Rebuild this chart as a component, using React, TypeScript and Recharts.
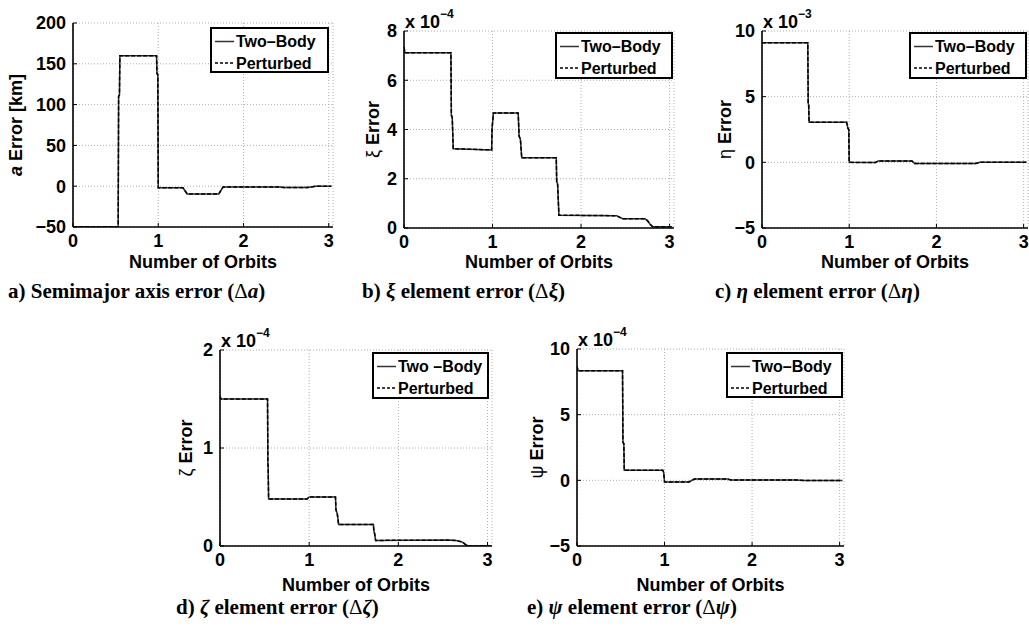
import React from 'react';
import { LineChart, Line, XAxis, YAxis, CartesianGrid, Legend } from 'recharts';

// values; b, d, e are in units of 1e-4, c in 1e-3
const orbitsA = [0, 0.53, 0.535, 0.545, 0.55, 0.98, 0.985, 0.995, 1.0, 1.29, 1.34, 1.71, 1.76, 2.43, 2.47, 2.75, 2.85, 3.03];
const twoBodyA = [-50, -50, 110, 112, 160, 160, 138, 137, -2, -2, -9.5, -9.5, -1, -1, -1.5, -1.5, 0, 0];
const perturbedA = [-50, -50, 110, 112, 160, 160, 138, 137, -2, -2, -9.5, -9.5, -1, -1, -1.5, -1.5, 0, 0];

const orbitsB = [0, 0.01, 0.53, 0.535, 0.545, 0.556, 0.99, 0.995, 1.01, 1.29, 1.3, 1.315, 1.33, 1.72, 1.725, 1.735, 1.75, 2.4, 2.47, 2.72, 2.75, 2.78, 2.81, 3.03];
const twoBodyB = [7.35, 7.12, 7.12, 4.58, 4.5, 3.22, 3.17, 4.04, 4.67, 4.67, 3.73, 3.6, 2.85, 2.85, 1.87, 1.8, 0.52, 0.5, 0.38, 0.38, 0.3, 0.15, 0.05, 0.05];
const perturbedB = [7.35, 7.12, 7.12, 4.58, 4.5, 3.22, 3.17, 4.04, 4.67, 4.67, 3.73, 3.6, 2.85, 2.85, 1.87, 1.8, 0.52, 0.5, 0.38, 0.38, 0.3, 0.15, 0.05, 0.05];

const orbitsC = [0, 0.525, 0.53, 0.535, 0.54, 0.97, 0.985, 0.995, 1.0, 1.3, 1.33, 1.72, 1.75, 2.45, 2.5, 3.03];
const twoBodyC = [9.1, 9.1, 4.46, 4.4, 3.05, 3.05, 2.6, 2.5, 0, -0.02, 0.1, 0.1, -0.08, -0.08, 0, 0];
const perturbedC = [9.1, 9.1, 4.46, 4.4, 3.05, 3.05, 2.6, 2.5, 0, -0.02, 0.1, 0.1, -0.08, -0.08, 0, 0];

const orbitsD = [0, 0.01, 0.533, 0.537, 0.54, 0.545, 0.976, 1.0, 1.295, 1.3, 1.315, 1.33, 1.72, 1.725, 1.735, 1.745, 2.55, 2.65, 2.72, 2.76, 2.79, 3.03];
const twoBodyD = [1.53, 1.5, 1.5, 0.85, 0.8, 0.48, 0.48, 0.5, 0.5, 0.37, 0.33, 0.22, 0.22, 0.16, 0.12, 0.057, 0.06, 0.055, 0.04, 0.01, 0, 0];
const perturbedD = [1.53, 1.5, 1.5, 0.85, 0.8, 0.48, 0.48, 0.5, 0.5, 0.37, 0.33, 0.22, 0.22, 0.16, 0.12, 0.057, 0.06, 0.055, 0.04, 0.01, 0, 0];

const orbitsE = [0, 0.01, 0.52, 0.525, 0.535, 0.54, 0.98, 0.99, 1.0, 1.28, 1.34, 1.72, 1.76, 2.5, 2.6, 3.03];
const twoBodyE = [8.7, 8.35, 8.35, 2.86, 2.8, 0.77, 0.77, 0.6, -0.12, -0.12, 0.1, 0.1, 0.03, 0.03, -0.02, -0.02];
const perturbedE = [8.7, 8.35, 8.35, 2.86, 2.8, 0.77, 0.77, 0.6, -0.12, -0.12, 0.1, 0.1, 0.03, 0.03, -0.02, -0.02];

const xTicks = [0, 1, 2, 3];
const yTicksA = [-50, 0, 50, 100, 150, 200];
const yTicksB = [0, 2, 4, 6, 8];
const yTicksC = [-5, 0, 5, 10];
const yTicksD = [0, 1, 2];
const yTicksE = [-5, 0, 5, 10];

const seriesNames = ['Two\u2013Body', 'Perturbed'];
const seriesNamesD = ['Two \u2013Body', 'Perturbed'];

const toRows = (x: number[], two: number[], pert: number[]) =>
  x.map((v, i) => ({ orbits: v, twoBody: two[i], perturbed: pert[i] }));

const YW = 70;
const XH = 62;
const MT = 30;
const MR = 8;
const X_MAX = 3.05;

const fmt = (v: number) => (v < 0 ? `\u2212${Math.abs(v)}` : `${v}`);

type Box = { l: number; t: number; r: number; b: number };
type LBox = { l: number; t: number; w: number; h: number };

const LegendBox = ({ names, w, h }: { names: string[]; w: number; h: number }) => (
  <svg width={w} height={h} style={{ overflow: 'visible', display: 'block' }}>
    <rect x={1} y={1} width={w - 2} height={h - 2} fill="#fff" stroke="#000" strokeWidth={2} />
    <line x1={5} x2={24} y1={14.5} y2={14.5} stroke="#333" strokeWidth={1.5} />
    <text x={26} y={14.5} dominantBaseline="central" fontSize={16} fontWeight={700}>{names[0]}</text>
    <line x1={5} x2={24} y1={36} y2={36} stroke="#000" strokeWidth={1.3} strokeDasharray="3 2" />
    <text x={26} y={36} dominantBaseline="central" fontSize={16} fontWeight={700}>{names[1]}</text>
  </svg>
);

interface PanelProps {
  rows: { orbits: number; twoBody: number; perturbed: number }[];
  yTicks: number[];
  exponent?: string;
  yLabel: React.ReactNode;
  yLabelDx: number;
  xLabelDy: number;
  plot: Box;
  legend: LBox;
  names: string[];
}

const Panel: React.FC<PanelProps> = ({ rows, yTicks, exponent, yLabel, yLabelDx, xLabelDy, plot, legend, names }) => {
  const left = plot.l - YW;
  const top = plot.t - MT;
  const width = plot.r - plot.l + YW + MR;
  const height = plot.b - plot.t + MT + XH;
  const yDomain = [yTicks[0], yTicks[yTicks.length - 1]];
  const axisLine = { stroke: '#000', strokeWidth: 1.6 };
  const tickStyle = { fill: '#000', fontSize: 18, fontWeight: 700 };

  return (
    <div style={{ position: 'absolute', left, top, width, height }}>
      <LineChart width={width} height={height} data={rows} margin={{ top: MT, right: MR, bottom: 0, left: 0 }}>
        <CartesianGrid stroke="#b0b0b0" strokeDasharray="1 2" />
        <XAxis
          dataKey="orbits"
          type="number"
          domain={[0, X_MAX]}
          ticks={xTicks}
          interval={0}
          allowDataOverflow
          height={XH}
          tickSize={-4}
          tickMargin={11}
          axisLine={axisLine}
          tickLine={{ stroke: '#000' }}
          tick={tickStyle}
          label={(p: any) => {
            const vb = p.viewBox;
            return (
              <text x={vb.x + vb.width / 2} y={vb.y + xLabelDy} textAnchor="middle" dominantBaseline="central" fontSize={18} fontWeight={700}>
                Number of Orbits
              </text>
            );
          }}
        />
        <XAxis
          xAxisId="top"
          orientation="top"
          type="number"
          domain={[0, X_MAX]}
          ticks={xTicks}
          interval={0}
          allowDataOverflow
          height={0}
          tickSize={-4}
          tickFormatter={() => ''}
          axisLine={axisLine}
          tickLine={{ stroke: '#000' }}
        />
        <YAxis
          type="number"
          domain={yDomain}
          ticks={yTicks}
          interval={0}
          allowDataOverflow
          width={YW}
          tickSize={-4}
          tickMargin={11}
          tickFormatter={fmt}
          axisLine={axisLine}
          tickLine={{ stroke: '#000' }}
          tick={tickStyle}
          label={(p: any) => {
            const vb = p.viewBox;
            const cx = vb.x + vb.width + yLabelDx;
            const cy = vb.y + vb.height / 2;
            return (
              <g>
                <text x={cx} y={cy} transform={`rotate(-90 ${cx} ${cy})`} textAnchor="middle" dominantBaseline="central" fontSize={18} fontWeight={700}>
                  {yLabel}
                </text>
                {exponent && (
                  <text x={vb.x + vb.width + 1} y={vb.y - 3} fontSize={18} fontWeight={700}>
                    x 10<tspan dy={-10} fontSize={12}>{exponent}</tspan>
                  </text>
                )}
              </g>
            );
          }}
        />
        <YAxis
          yAxisId="right"
          orientation="right"
          type="number"
          domain={yDomain}
          ticks={yTicks}
          interval={0}
          allowDataOverflow
          width={0}
          tickSize={-4}
          tickFormatter={() => ''}
          axisLine={axisLine}
          tickLine={{ stroke: '#000' }}
        />
        <Line dataKey="twoBody" type="linear" dot={false} stroke="#333" strokeWidth={1.5} isAnimationActive={false} />
        <Line dataKey="perturbed" type="linear" dot={false} stroke="#000" strokeWidth={1.5} strokeDasharray="4 2" isAnimationActive={false} />
        <Legend
          layout="vertical"
          verticalAlign="middle"
          align="center"
          wrapperStyle={{ left: legend.l - left, top: legend.t - top, width: legend.w, height: legend.h }}
          content={() => <LegendBox names={names} w={legend.w} h={legend.h} />}
        />
      </LineChart>
    </div>
  );
};

const captionStyle: React.CSSProperties = {
  position: 'absolute',
  fontFamily: '"Liberation Serif", "Times New Roman", serif',
  fontWeight: 700,
  fontSize: 21,
  lineHeight: '21px',
  whiteSpace: 'nowrap',
  color: '#000',
};

const greek = (s: string) => <span style={{ fontStyle: 'italic' }}>{s}</span>;
const delta = <span style={{ fontWeight: 400 }}>{'\u0394'}</span>;

export default function App() {
  return (
    <div
      style={{
        position: 'absolute',
        left: 0,
        top: 0,
        width: 1029,
        height: 631,
        overflow: 'hidden',
        background: '#fff',
        fontFamily: '"Liberation Sans", Arial, sans-serif',
      }}
    >
      <Panel
        rows={toRows(orbitsA, twoBodyA, perturbedA)}
        yTicks={yTicksA}
        yLabel={<><tspan fontStyle="italic">a</tspan> Error [km]</>}
        yLabelDx={-57}
        xLabelDy={35}
        plot={{ l: 73, t: 23, r: 333, b: 227 }}
        legend={{ l: 210, t: 27, w: 119, h: 46 }}
        names={seriesNames}
      />
      <Panel
        rows={toRows(orbitsB, twoBodyB, perturbedB)}
        yTicks={yTicksB}
        exponent={'\u22124'}
        yLabel={<><tspan fontWeight={400}>{'\u03be'}</tspan> Error</>}
        yLabelDx={-31}
        xLabelDy={34}
        plot={{ l: 404, t: 31, r: 674, b: 228 }}
        legend={{ l: 555, t: 32, w: 118, h: 47 }}
        names={seriesNames}
      />
      <Panel
        rows={toRows(orbitsC, twoBodyC, perturbedC)}
        yTicks={yTicksC}
        exponent={'\u22123'}
        yLabel={<><tspan fontWeight={400}>{'\u03b7'}</tspan> Error</>}
        yLabelDx={-37}
        xLabelDy={34}
        plot={{ l: 762, t: 31, r: 1028, b: 228 }}
        legend={{ l: 909, t: 32, w: 118, h: 47 }}
        names={seriesNames}
      />
      <Panel
        rows={toRows(orbitsD, twoBodyD, perturbedD)}
        yTicks={yTicksD}
        exponent={'\u22124'}
        yLabel={<><tspan fontWeight={400}>{'\u03b6'}</tspan> Error</>}
        yLabelDx={-34}
        xLabelDy={38.5}
        plot={{ l: 220, t: 350, r: 492, b: 546 }}
        legend={{ l: 372, t: 352, w: 117, h: 47 }}
        names={seriesNamesD}
      />
      <Panel
        rows={toRows(orbitsE, twoBodyE, perturbedE)}
        yTicks={yTicksE}
        exponent={'\u22124'}
        yLabel={<><tspan fontWeight={400}>{'\u03c8'}</tspan> Error</>}
        yLabelDx={-40}
        xLabelDy={38.5}
        plot={{ l: 577, t: 349, r: 844, b: 546 }}
        legend={{ l: 726, t: 352, w: 117, h: 46 }}
        names={seriesNames}
      />

      <div style={{ ...captionStyle, left: 8, top: 281 }}>
        a) Semimajor axis error ({delta}{greek('a')})
      </div>
      <div style={{ ...captionStyle, left: 362, top: 281 }}>
        b) {greek('\u03be')} element error ({delta}{greek('\u03be')})
      </div>
      <div style={{ ...captionStyle, left: 715, top: 281 }}>
        c) {greek('\u03b7')} element error ({delta}{greek('\u03b7')})
      </div>
      <div style={{ ...captionStyle, left: 176, top: 597 }}>
        d) {greek('\u03b6')} element error ({delta}{greek('\u03b6')})
      </div>
      <div style={{ ...captionStyle, left: 527, top: 597 }}>
        e) {greek('\u03c8')} element error ({delta}{greek('\u03c8')})
      </div>
    </div>
  );
}
